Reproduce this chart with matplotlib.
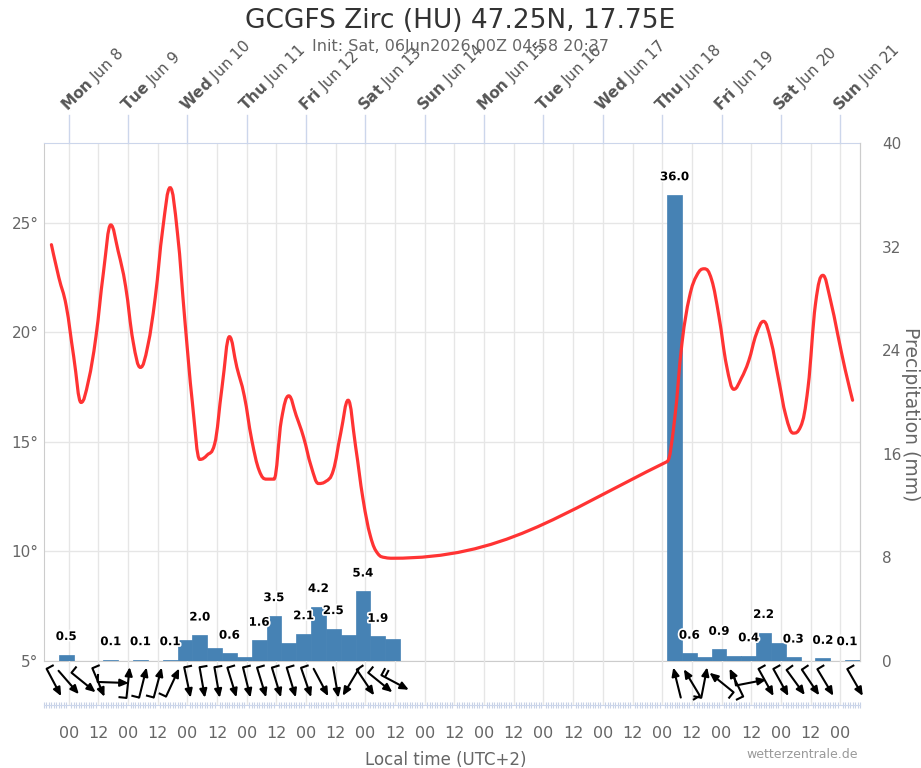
import numpy as np
import matplotlib
matplotlib.use('Agg')
import matplotlib.pyplot as plt
import matplotlib.patheffects as pe
from matplotlib.path import Path
from matplotlib.patches import PathPatch
from matplotlib.transforms import blended_transform_factory

# hours relative to Mon Jun 8 00:00 local time (UTC+2)
temp_hours = list(range(-7, 132, 3)) + list(range(242, 318, 3))
temp_values = [24.0, 22.5, 21.2, 18.9, 16.8, 17.8, 19.8, 22.7, 24.9, 23.7,
               22.1, 19.6, 18.4, 19.4, 21.6, 24.7, 26.6, 24.5, 20.5, 16.8,
               14.2, 14.4, 14.9, 17.5, 19.8, 18.4, 17.1, 15.1, 13.7, 13.3,
               13.3, 16.0, 17.1, 16.2, 15.2, 13.9, 13.1, 13.2, 13.7, 15.4,
               16.9, 14.8, 12.4, 10.7, 9.9, 9.72, 9.69,
               14.1, 16.0, 19.5, 21.6, 22.6, 22.9, 22.4, 20.7, 18.5, 17.4,
               17.9, 18.7, 19.9, 20.5, 19.6, 17.9, 16.2, 15.4, 15.7, 17.5,
               21.3, 22.6, 21.5, 19.9, 18.3, 16.9]

# 6-hourly precipitation, bar start hours
precip_start = list(range(-4, 134, 6)) + list(range(242, 320, 6))
precip_mm = [0.5, 0.0, 0.0, 0.1, 0.0, 0.1, 0.0, 0.1, 1.6, 2.0, 1.0, 0.6,
             0.3, 1.6, 3.5, 1.4, 2.1, 4.2, 2.5, 2.0, 5.4, 1.9, 1.7,
             36.0, 0.6, 0.3, 0.9, 0.4, 0.4, 2.2, 1.4, 0.3, 0.0, 0.2, 0.0, 0.1]
precip_shown = [1, 0, 0, 1, 0, 1, 0, 1, 0, 1, 0, 1,
                0, 1, 1, 0, 1, 1, 1, 0, 1, 1, 0,
                1, 1, 0, 1, 0, 1, 1, 0, 1, 0, 1, 0, 1]

# wind: direction the wind comes from (deg) and number of feathers
wind_hours = list(range(-6, 133, 6)) + [246, 252, 257, 264, 270, 276, 282, 288, 294, 300, 306, 318]
wind_dir = [332, 319, 309, 337, 272, 186, 194, 195, 205, 348, 350, 350,
            343, 346, 343, 343, 343, 341, 332, 350, 31, 326, 309, 298,
            166, 149, 191, 129, 154, 259, 331, 331, 324, 326, 329, 330]
wind_barbs = [1, 0, 1, 1, 1, 1, 1, 1, 1, 1, 1, 1,
              1, 1, 1, 1, 1, 1, 0, 0, 0, 1, 1, 2,
              0, 1, 1, 1, 1, 1, 1, 1, 1, 1, 1, 1]

day_names = ['Mon', 'Tue', 'Wed', 'Thu', 'Fri', 'Sat', 'Sun',
             'Mon', 'Tue', 'Wed', 'Thu', 'Fri', 'Sat', 'Sun']
day_dates = ['Jun 8', 'Jun 9', 'Jun 10', 'Jun 11', 'Jun 12', 'Jun 13', 'Jun 14',
             'Jun 15', 'Jun 16', 'Jun 17', 'Jun 18', 'Jun 19', 'Jun 20', 'Jun 21']

XMIN, XMAX = -10, 320
W, H = 921, 768
PL, PR, PT, PB, WB = 44, 860, 143, 661, 705
PX_PER_H = (PR - PL) / (XMAX - XMIN)


def hc_spline(xs, ys, smoothing=1.5):
    # same control point rule as the highcharts spline series
    n = len(xs)
    ctrl = []
    for i in range(n):
        x, y = xs[i], ys[i]
        if 0 < i < n - 1:
            lx, ly, nx, ny = xs[i-1], ys[i-1], xs[i+1], ys[i+1]
            d = smoothing + 1
            lcx, lcy = (smoothing*x + lx)/d, (smoothing*y + ly)/d
            rcx, rcy = (smoothing*x + nx)/d, (smoothing*y + ny)/d
            corr = (rcy - lcy)*(rcx - x)/(rcx - lcx) + y - rcy
            lcy += corr
            rcy += corr
            if lcy > ly and lcy > y:
                lcy = max(ly, y); rcy = 2*y - lcy
            elif lcy < ly and lcy < y:
                lcy = min(ly, y); rcy = 2*y - lcy
            if rcy > ny and rcy > y:
                rcy = max(ny, y); lcy = 2*y - rcy
            elif rcy < ny and rcy < y:
                rcy = min(ny, y); lcy = 2*y - rcy
            ctrl.append(((lcx, lcy), (rcx, rcy)))
        else:
            ctrl.append(((x, y), (x, y)))
    verts = [(xs[0], ys[0])]
    codes = [Path.MOVETO]
    for i in range(1, n):
        verts += [ctrl[i-1][1], ctrl[i][0], (xs[i], ys[i])]
        codes += [Path.CURVE4]*3
    return Path(verts, codes)


fig = plt.figure(figsize=(W/100, H/100), dpi=100)
ax = fig.add_axes([PL/W, 1 - PB/H, (PR - PL)/W, (PB - PT)/H])
ax2 = ax.twinx()
axw = fig.add_axes([PL/W, 1 - WB/H, (PR - PL)/W, (WB - PB)/H])

grid_c = '#e6e6e6'
lab_c = '#666666'
blue_line = '#ccd6eb'

# --- temperature axis ---
ax.set_xlim(XMIN, XMAX)
ax.set_ylim(5, 28.64)
ax.set_yticks([5, 10, 15, 20, 25])
ax.set_yticklabels(['5°', '10°', '15°', '20°', '25°'])
ax.tick_params(axis='y', length=0, pad=4, labelsize=11, labelcolor=lab_c)
ax.set_xticks(range(0, 313, 12))
ax.tick_params(axis='x', length=0, labelbottom=False)
ax.grid(True, color=grid_c, lw=1)
ax.set_axisbelow(True)
for s in ['left', 'bottom', 'right']:
    ax.spines[s].set_color('#cccccc')
ax.spines['top'].set_color(blue_line)

# --- precipitation axis ---
ax2.set_ylim(0, 40)
ax2.set_yticks(range(0, 41, 8))
ax2.tick_params(axis='y', length=0, pad=16, labelsize=11, labelcolor=lab_c)
for lab in ax2.get_yticklabels():
    lab.set_horizontalalignment('left')
ax2.spines['right'].set_color('#cccccc')
ax2.spines['top'].set_visible(False)
ax2.spines['left'].set_visible(False)
ax2.spines['bottom'].set_visible(False)
fig.text(910 / W, 1 - 414 / H, 'Precipitation (mm)', rotation=270, ha='center', va='center',
         fontsize=13.5, color=lab_c)

ax2.bar(precip_start, precip_mm, width=6, align='edge', color='#4682b4',
        edgecolor='#4682b4', lw=0.5, zorder=2)
for x0, v, show in zip(precip_start, precip_mm, precip_shown):
    if not show:
        continue
    xc = min(x0 + 3, XMAX - 13 / PX_PER_H)
    ax2.annotate(f'{v:.1f}', xy=(xc, v), xytext=(0, 13), textcoords='offset points',
                 ha='center', va='center', fontsize=8.5, fontweight='bold', color='black',
                 path_effects=[pe.withStroke(linewidth=2.5, foreground='white')], zorder=4)

line = PathPatch(hc_spline(temp_hours, temp_values), transform=ax.transData,
                 fill=False, edgecolor='#ff3333', lw=2.3, zorder=5, capstyle='round')
ax2.add_patch(line)
line.set_clip_box(ax2.bbox)

# --- top day axis ---
trans = blended_transform_factory(ax.transData, ax.transAxes)
tick_top = 1 + 28 / (PB - PT)
for i, (dn, dd) in enumerate(zip(day_names, day_dates)):
    h = 24 * i
    ax.plot([h, h], [1, tick_top], transform=trans, color=blue_line, lw=1, clip_on=False)
    ax.text(h + 1, tick_top, r'$\mathbf{%s}$ %s' % (dn, dd), transform=trans, rotation=45,
            rotation_mode='anchor', ha='left', va='bottom', fontsize=11, color='#555555',
            clip_on=False)

# --- wind strip ---
axw.set_xlim(XMIN, XMAX)
axw.set_ylim(WB - PB, 0)
axw.set_yticks([])
axw.set_xticks(range(0, 313, 12))
axw.set_xticklabels(['00' if h % 24 == 0 else '12' for h in range(0, 313, 12)])
axw.set_xticks(range(XMIN, XMAX + 1), minor=True)
axw.tick_params(axis='x', which='major', length=0, pad=15, labelsize=11.5, labelcolor=lab_c)
axw.tick_params(axis='x', which='minor', length=4, direction='inout', color='#c8d2e6', width=0.8)
axw.grid(True, axis='x', color=grid_c, lw=1)
axw.set_axisbelow(True)
for s in ['left', 'right', 'top']:
    axw.spines[s].set_visible(False)
axw.spines['bottom'].set_color(blue_line)
axw.patch.set_alpha(0)

half = 15.5
for h, d, nb in zip(wind_hours, wind_dir, wind_barbs):
    r = np.deg2rad(d)
    ux, uy = -np.sin(r), np.cos(r)   # downwind direction, y pointing down
    cx, cy = h, 21.5
    tail = (cx - half * ux / PX_PER_H, cy - half * uy)
    head = (cx + half * ux / PX_PER_H, cy + half * uy)
    axw.annotate('', xy=head, xytext=tail,
                 arrowprops=dict(arrowstyle='-|>,head_length=0.5,head_width=0.22', color='black',
                                 lw=1.5, shrinkA=0, shrinkB=0),
                 annotation_clip=False)
    for k in range(nb):
        bx = tail[0] + 4 * k * ux / PX_PER_H
        by = tail[1] + 4 * k * uy
        axw.plot([bx, bx + 8 * uy / PX_PER_H], [by, by - 8 * ux], color='black', lw=1.5,
                 solid_capstyle='butt', clip_on=False)

# --- titles ---
fig.text(0.5, 1 - 21 / H, 'GCGFS Zirc (HU) 47.25N, 17.75E', ha='center', va='center',
         fontsize=19, color='#333333')
fig.text(0.5, 1 - 47 / H, 'Init: Sat, 06Jun2026 00Z 04:58 20:37', ha='center', va='center',
         fontsize=11.5, color=lab_c)
fig.text(446 / W, 1 - 760 / H, 'Local time (UTC+2)', ha='center', va='center',
         fontsize=12, color=lab_c)
fig.text(858 / W, 1 - 755 / H, 'wetterzentrale.de', ha='right', va='center',
         fontsize=9, color='#999999')

fig.savefig('out.png', dpi=100)
